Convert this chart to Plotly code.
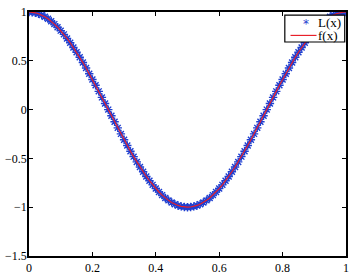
import plotly.graph_objects as go

x_vals = [i / 100 for i in range(101)]
half = [1.000, 0.998, 0.992, 0.982, 0.969, 0.951, 0.930, 0.905, 0.876, 0.844,
        0.809, 0.771, 0.729, 0.685, 0.637, 0.588, 0.536, 0.482, 0.426, 0.368,
        0.309, 0.249, 0.187, 0.125, 0.063, 0.000, -0.063, -0.125, -0.187, -0.249,
        -0.309, -0.368, -0.426, -0.482, -0.536, -0.588, -0.637, -0.685, -0.729, -0.771,
        -0.809, -0.844, -0.876, -0.905, -0.930, -0.951, -0.969, -0.982, -0.992, -0.998,
        -1.000]
L_vals = half + half[-2::-1]
f_vals = list(L_vals)

x_ticks = [0, 0.2, 0.4, 0.6, 0.8, 1]
x_tick_text = ["0", "0.2", "0.4", "0.6", "0.8", "1"]
y_ticks = [-1.5, -1, -0.5, 0, 0.5, 1]
y_tick_text = ["\u22121.5", "\u22121", "\u22120.5", "0", "0.5", "1"]

series_names = ["L(x)", "f(x)"]
blue = "#1f3fd0"
red = "#e8202a"

fig = go.Figure()
fig.add_trace(go.Scatter(
    x=x_vals, y=L_vals, mode="markers", name=series_names[0], showlegend=False,
    marker=dict(symbol="asterisk-open", size=7, color=blue,
                line=dict(color=blue, width=1.4)),
))
fig.add_trace(go.Scatter(
    x=x_vals, y=f_vals, mode="lines", name=series_names[1], showlegend=False,
    line=dict(color=red, width=1.2),
))

font_serif = dict(family="Liberation Serif", size=12, color="black")
axis_common = dict(
    showline=True, linecolor="black", linewidth=1.5, mirror="ticks",
    ticks="inside", ticklen=4, tickcolor="black", showgrid=False, zeroline=False,
    tickfont=font_serif, ticklabeloverflow="allow",
)
fig.update_xaxes(range=[0, 1], tickvals=x_ticks, ticktext=x_tick_text, **axis_common)
fig.update_yaxes(range=[-1.5, 1], tickvals=y_ticks, ticktext=y_tick_text,
                 ticklabelstandoff=-2, **axis_common)

# legend box (MATLAB style)
fig.add_shape(type="rect", xref="paper", yref="paper", x0=0.807, x1=0.996, y0=0.877, y1=0.987,
              fillcolor="white", line=dict(color="black", width=1.2), layer="above")
fig.add_shape(type="line", xref="paper", yref="paper", x0=0.825, x1=0.907, y0=0.904, y1=0.904,
              line=dict(color=red, width=1.2), layer="above")
fig.add_annotation(xref="paper", yref="paper", x=0.873, y=0.950, text="*",
                   showarrow=False, font=dict(family="DejaVu Sans", size=12, color=blue),
                   xanchor="center", yanchor="middle")
legend_font = dict(family="Liberation Serif", size=13, color="black")
fig.add_annotation(xref="paper", yref="paper", x=0.909, y=0.956, text=series_names[0],
                   showarrow=False, font=legend_font, xanchor="left", yanchor="middle",
                   borderpad=0)
fig.add_annotation(xref="paper", yref="paper", x=0.909, y=0.903, text=series_names[1],
                   showarrow=False, font=legend_font, xanchor="left", yanchor="middle",
                   borderpad=0)

fig.update_layout(
    width=354, height=280,
    margin=dict(l=27, r=5, t=9, b=18),
    paper_bgcolor="white", plot_bgcolor="white",
    showlegend=False,
)

fig.write_html("out.html", config={"displayModeBar": False},
               post_script="document.body.style.margin='0';document.body.style.overflow='hidden';")
